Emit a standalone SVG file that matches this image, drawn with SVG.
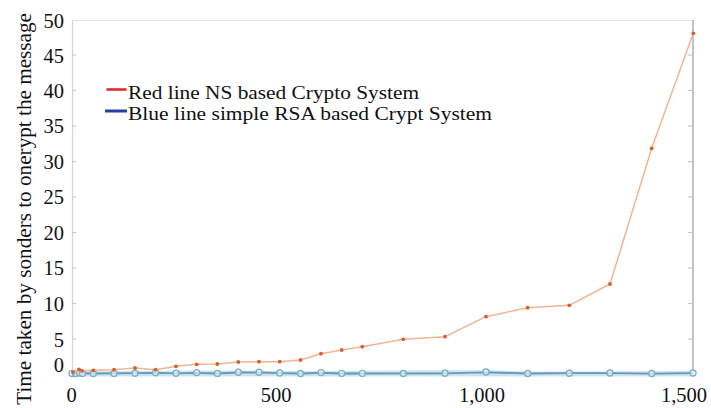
<svg xmlns="http://www.w3.org/2000/svg" width="711" height="408" viewBox="0 0 711 408">
<style>
  .lbl { font-size: 20.5px; }
  .leg { font-size: 19px; }
  .ttl { font-size: 21.2px; }
  .tick { stroke: #c8c8c8; stroke-width: 1.2; }
  .rdot { fill: #d4602b; }
  .bcirc { fill: #ffffff; fill-opacity: 0.6; stroke: #7db0ca; stroke-width: 1.4; }
</style>
<defs>
  <circle id="rd" r="1.9" class="rdot"/>
  <circle id="bc" r="3" class="bcirc"/>
</defs>
<rect width="711" height="408" fill="#ffffff"/>
<g id="axes">
  <line x1="72" y1="20.5" x2="693" y2="20.5" stroke="#e2e2e2" stroke-width="1.2"/>
  <line x1="72.5" y1="20" x2="72.5" y2="374" stroke="#d6d6d6" stroke-width="1.3"/>
  <line x1="693" y1="20" x2="693" y2="375" stroke="#c2c2c2" stroke-width="2"/>
  <g class="tick">
    <line x1="72" y1="55" x2="76" y2="55"/><line x1="72" y1="90.5" x2="76" y2="90.5"/>
    <line x1="72" y1="126" x2="76" y2="126"/><line x1="72" y1="161.7" x2="76" y2="161.7"/>
    <line x1="72" y1="197" x2="76" y2="197"/><line x1="72" y1="232.5" x2="76" y2="232.5"/>
    <line x1="72" y1="268" x2="76" y2="268"/><line x1="72" y1="303.5" x2="76" y2="303.5"/>
    <line x1="72" y1="339" x2="76" y2="339"/>
    <line x1="688" y1="55" x2="692" y2="55"/><line x1="688" y1="90.5" x2="692" y2="90.5"/>
    <line x1="688" y1="126" x2="692" y2="126"/><line x1="688" y1="161.7" x2="692" y2="161.7"/>
    <line x1="688" y1="197" x2="692" y2="197"/><line x1="688" y1="232.5" x2="692" y2="232.5"/>
    <line x1="688" y1="268" x2="692" y2="268"/><line x1="688" y1="303.5" x2="692" y2="303.5"/>
    <line x1="688" y1="339" x2="692" y2="339"/>
  </g>
</g>
<g font-family="Liberation Serif, Times New Roman, DejaVu Serif, serif" fill="#111111">
<g id="y-labels" class="lbl" text-anchor="end">
  <text x="64" y="28.3">50</text>
  <text x="64" y="62.5">45</text>
  <text x="64" y="97.5">40</text>
  <text x="64" y="133">35</text>
  <text x="64" y="168.5">30</text>
  <text x="64" y="204">25</text>
  <text x="64" y="239.5">20</text>
  <text x="64" y="275">15</text>
  <text x="64" y="310.5">10</text>
  <text x="64" y="346.5">5</text>
  <text x="64" y="371.5">0</text>
</g>
<g id="x-labels" class="lbl" text-anchor="middle">
  <text x="71.7" y="402">0</text>
  <text x="276" y="402">500</text>
  <text x="482" y="402">1,000</text>
  <text x="684" y="402">1,500</text>
</g>
<text id="y-title" class="ttl" text-anchor="end" transform="translate(31,13) rotate(-90)">Time taken by sonders to onerypt the message</text>
</g>
<g id="series-blue">
  <polygon points="72,371.5 155.5,370.8 238.3,370.5 279.7,371 321,371 486,370 527.7,371.5 693,371 693,376.5 72,376.5" fill="#cfe3ee"/>
  <polyline points="72,373.5 79,373 93.3,373.5 135,373.2 155.5,372.8 176,373.3 196.7,372.8 217.3,373.5 238.3,372.5 259,372.5 279.7,373.2 300.5,373.5 321,372.8 341.7,373.5 362.3,373.5 445,373.4 486,372.3 527.7,373.5 569.3,373.2 610,373.2 651.7,373.6 693,373.2" fill="none" stroke="#5f9aba" stroke-width="1.8"/>
  <use href="#bc" x="72" y="373.5"/><use href="#bc" x="75.5" y="373.5"/><use href="#bc" x="79.5" y="373"/>
  <use href="#bc" x="82.5" y="373.5"/><use href="#bc" x="93.3" y="373.5"/><use href="#bc" x="114" y="373.5"/>
  <use href="#bc" x="135" y="373.2"/><use href="#bc" x="155.5" y="372.8"/><use href="#bc" x="176" y="373.3"/>
  <use href="#bc" x="196.7" y="372.6"/><use href="#bc" x="217.3" y="373.5"/><use href="#bc" x="238.3" y="372.3"/>
  <use href="#bc" x="259" y="372.3"/><use href="#bc" x="279.7" y="373"/><use href="#bc" x="300.5" y="373.5"/>
  <use href="#bc" x="321" y="372.6"/><use href="#bc" x="341.7" y="373.4"/><use href="#bc" x="362.3" y="373.4"/>
  <use href="#bc" x="403.3" y="373.5"/><use href="#bc" x="445" y="373.3"/><use href="#bc" x="486" y="372"/>
  <use href="#bc" x="527.7" y="373.5"/><use href="#bc" x="569.3" y="373.2"/><use href="#bc" x="610" y="373"/>
  <use href="#bc" x="651.7" y="373.5"/><use href="#bc" x="693" y="373"/>
</g>
<g id="series-red">
  <polyline points="73,372.5 79,369.3 82,370.8 93.3,370.3 114,369.7 135,368 155.5,369.7 176,366.3 196.7,364.3 217.3,364 238.3,362 259,361.7 279.7,361.7 300.5,360 321,353.7 341.7,350 362.3,346.7 403.3,339.3 445,336.7 486,316.7 527.7,307.7 569.3,305.3 610,284 651.7,148.3 693.3,33.3" fill="none" stroke="#f0b593" stroke-width="1.5" stroke-linejoin="round"/>
  <use href="#rd" x="73" y="372.5"/><use href="#rd" x="79" y="369.3"/><use href="#rd" x="82" y="370.8"/>
  <use href="#rd" x="93.3" y="370.3"/><use href="#rd" x="114" y="369.7"/><use href="#rd" x="135" y="368"/>
  <use href="#rd" x="155.5" y="369.7"/><use href="#rd" x="176" y="366.3"/><use href="#rd" x="196.7" y="364.3"/>
  <use href="#rd" x="217.3" y="364"/><use href="#rd" x="238.3" y="362"/><use href="#rd" x="259" y="361.7"/>
  <use href="#rd" x="279.7" y="361.7"/><use href="#rd" x="300.5" y="360"/><use href="#rd" x="321" y="353.7"/>
  <use href="#rd" x="341.7" y="350"/><use href="#rd" x="362.3" y="346.7"/><use href="#rd" x="403.3" y="339.3"/>
  <use href="#rd" x="445" y="336.7"/><use href="#rd" x="486" y="316.7"/><use href="#rd" x="527.7" y="307.7"/>
  <use href="#rd" x="569.3" y="305.3"/><use href="#rd" x="610" y="284"/><use href="#rd" x="651.7" y="148.3"/>
  <use href="#rd" x="693.3" y="33.3"/>
</g>
<g id="legend">
  <line x1="106.5" y1="89.5" x2="126.5" y2="89.5" stroke="#e8262b" stroke-width="2.6"/>
  <line x1="105" y1="111" x2="127" y2="111" stroke="#2b3f9d" stroke-width="3"/>
  <g font-family="Liberation Serif, Times New Roman, DejaVu Serif, serif" fill="#111111">
    <text class="leg" x="128" y="99.3" textLength="291" lengthAdjust="spacingAndGlyphs">Red line NS based Crypto System</text>
    <text class="leg" x="128" y="120" textLength="364" lengthAdjust="spacingAndGlyphs">Blue line simple RSA based Crypt System</text>
  </g>
</g>
</svg>
